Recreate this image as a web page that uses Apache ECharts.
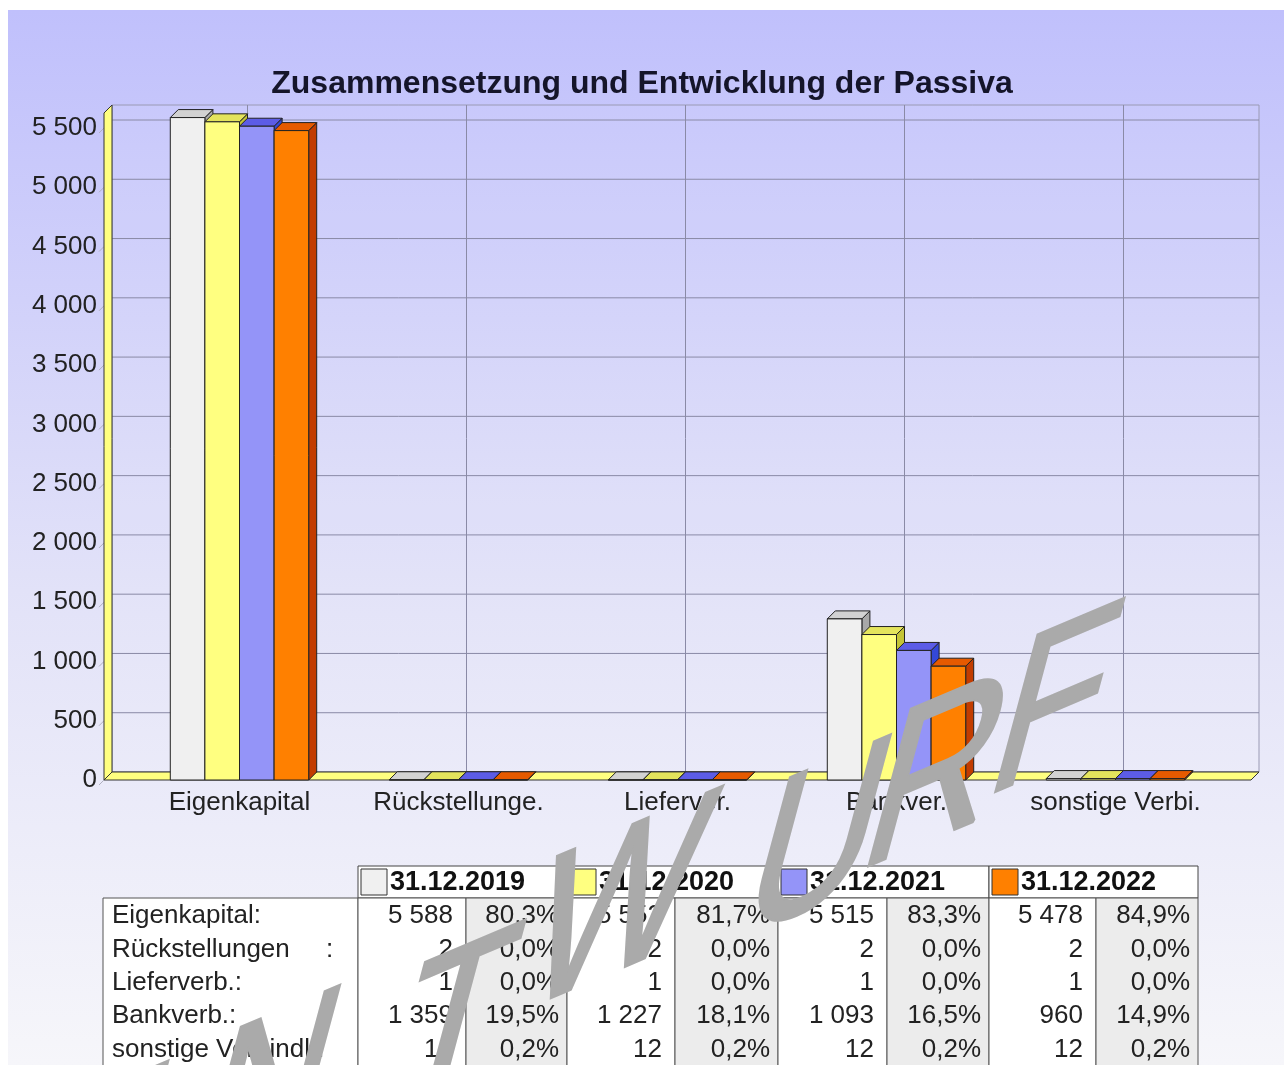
<!DOCTYPE html>
<html><head><meta charset="utf-8">
<script src="https://cdn.jsdelivr.net/npm/echarts@6/dist/echarts.min.js"></script>
<style>html,body{margin:0;padding:0;background:#fff}#c{width:1284px;height:1065px}</style>
</head><body><div id="c"></div>
<script>
// ---------- data ----------
const titleText = 'Zusammensetzung und Entwicklung der Passiva';
const categories = ['Eigenkapital', 'Rückstellunge.', 'Lieferver.', 'Bankver.', 'sonstige Verbi.'];
const seriesNames = ['31.12.2019', '31.12.2020', '31.12.2021', '31.12.2022'];
const values2019 = [5588, 2, 1, 1359, 12];
const values2020 = [5552, 2, 1, 1227, 12];
const values2021 = [5515, 2, 1, 1093, 12];
const values2022 = [5478, 2, 1, 960, 12];
const pct2019 = ['80,3%', '0,0%', '0,0%', '19,5%', '0,2%'];
const pct2020 = ['81,7%', '0,0%', '0,0%', '18,1%', '0,2%'];
const pct2021 = ['83,3%', '0,0%', '0,0%', '16,5%', '0,2%'];
const pct2022 = ['84,9%', '0,0%', '0,0%', '14,9%', '0,2%'];
const rowLabels = ['Eigenkapital:', 'Rückstellungen     :', 'Lieferverb.:', 'Bankverb.:', 'sonstige Verbindl.:'];
const yTicks = [0, 500, 1000, 1500, 2000, 2500, 3000, 3500, 4000, 4500, 5000, 5500];
const watermarkText = 'ENTWURF';

// ---------- styles ----------
const FONT = '"Liberation Sans", Arial, sans-serif';
const allValues = [values2019, values2020, values2021, values2022];
const allPct = [pct2019, pct2020, pct2021, pct2022];
const faceColors = [
  {front: '#f0f0f0', top: '#d2d2d2', side: '#a8a8a8'},
  {front: '#ffff80', top: '#e4e45c', side: '#c4c436'},
  {front: '#9494f8', top: '#5c5ce6', side: '#3448d8'},
  {front: '#ff8000', top: '#e65a00', side: '#c23c00'}
];
const DEPTH = 8;
const fmt = v => String(v).replace(/\B(?=(\d{3})+(?!\d))/g, ' ');

function barRender(s) {
  return function (params, api) {
    const cat = api.value(0), v = api.value(1);
    const top = api.coord([cat, v]);
    const base = api.coord([cat, 0]);
    const cw = api.size([1, 0])[0];
    const bw = cw * 0.158;
    const x0 = top[0] + (s - 1.5) * bw - bw / 2;
    const x1 = x0 + bw;
    const yt = top[1], yb = base[1], d = DEPTH;
    const c = faceColors[s];
    return {type: 'group', children: [
      {type: 'polygon', shape: {points: [[x1, yt], [x1 + d, yt - d], [x1 + d, yb - d], [x1, yb]]},
        style: {fill: c.side, stroke: '#222', lineWidth: 1}},
      {type: 'polygon', shape: {points: [[x0, yt], [x0 + d, yt - d], [x1 + d, yt - d], [x1, yt]]},
        style: {fill: c.top, stroke: '#222', lineWidth: 1}},
      {type: 'rect', shape: {x: x0, y: yt, width: bw, height: Math.max(yb - yt, 0)},
        style: {fill: c.front, stroke: '#222', lineWidth: 1}}
    ]};
  };
}

function frameRender(params, api) {
  const cs = params.coordSys;
  const d = DEPTH, ext = 26, over = 15;
  const y0 = api.coord([0, 0])[1];
  const yMax = api.coord([0, yTicks[yTicks.length - 1]])[1];
  const xl = cs.x - ext, xr = cs.x + cs.width + ext;
  const wallTop = yMax - d - over;
  const ch = [];
  ch.push({type: 'rect', shape: {x: xl + d, y: wallTop, width: xr - xl, height: y0 - d - wallTop},
    style: {fill: 'rgba(255,255,255,0.06)', stroke: '#9a9ab4', lineWidth: 1}});
  yTicks.forEach(t => {
    const y = api.coord([0, t])[1];
    ch.push({type: 'line', shape: {x1: xl + d, y1: y - d, x2: xr + d, y2: y - d},
      style: {stroke: '#8a8aa6', lineWidth: 1}});
    ch.push({type: 'line', shape: {x1: xl - 5, y1: y + 5, x2: xl, y2: y},
      style: {stroke: '#b0b0c0', lineWidth: 1}});
  });
  categories.forEach((c, i) => {
    const x = api.coord([i, 0])[0];
    ch.push({type: 'line', shape: {x1: x + d, y1: wallTop, x2: x + d, y2: y0 - d},
      style: {stroke: '#8a8aa6', lineWidth: 1}});
  });
  ch.push({type: 'polygon', shape: {points: [[xl, y0], [xl + d, y0 - d], [xl + d, wallTop], [xl, wallTop + d]]},
    style: {fill: '#ffff80', stroke: '#333', lineWidth: 1}});
  ch.push({type: 'polygon', shape: {points: [[xl, y0], [xl + d, y0 - d], [xr + d, y0 - d], [xr, y0]]},
    style: {fill: '#ffff80', stroke: '#333', lineWidth: 1}});
  return {type: 'group', children: ch};
}

// ---------- table (graphic) ----------
const tbl = {headTop: 866, headH: 32, bodyTop: 898, rowH: 33.4, labelX: 103,
  cols: [358, 466, 567, 675, 778, 887, 989, 1096, 1198], bottom: 1068};
const graphics = [];
graphics.push({type: 'rect', z: -100, silent: true,
  shape: {x: 8, y: 10, width: 1276, height: 1055},
  style: {fill: new echarts.graphic.LinearGradient(0, 0, 0, 1, [
    {offset: 0, color: '#c0c0fc'}, {offset: 0.55, color: '#e2e2f8'}, {offset: 1, color: '#f6f6fa'}])}});
graphics.push({type: 'rect', z: 10, shape: {x: tbl.labelX, y: tbl.bodyTop, width: tbl.cols[0] - tbl.labelX, height: tbl.bottom - tbl.bodyTop},
  style: {fill: '#ffffff', stroke: '#555', lineWidth: 1}});
seriesNames.forEach((name, s) => {
  const xa = tbl.cols[2 * s], xb = tbl.cols[2 * s + 1], xc = tbl.cols[2 * s + 2];
  graphics.push({type: 'rect', z: 10, shape: {x: xa, y: tbl.headTop, width: xc - xa, height: tbl.headH},
    style: {fill: '#ffffff', stroke: '#444', lineWidth: 1}});
  graphics.push({type: 'rect', z: 11, shape: {x: xa + 3, y: tbl.headTop + 3, width: 26, height: 26},
    style: {fill: faceColors[s].front, stroke: '#333', lineWidth: 1}});
  graphics.push({type: 'text', z: 11, x: xa + 32, y: tbl.headTop + tbl.headH / 2 + 1,
    style: {text: name, font: 'bold 27px ' + FONT, fill: '#111', textVerticalAlign: 'middle'}});
  graphics.push({type: 'rect', z: 10, shape: {x: xa, y: tbl.bodyTop, width: xb - xa, height: tbl.bottom - tbl.bodyTop},
    style: {fill: '#ffffff', stroke: '#555', lineWidth: 1}});
  graphics.push({type: 'rect', z: 10, shape: {x: xb, y: tbl.bodyTop, width: xc - xb, height: tbl.bottom - tbl.bodyTop},
    style: {fill: '#ececec', stroke: '#555', lineWidth: 1}});
  categories.forEach((c, r) => {
    const yc = tbl.bodyTop + 18 + r * tbl.rowH;
    graphics.push({type: 'text', z: 11, x: xb - 13, y: yc,
      style: {text: fmt(allValues[s][r]), font: '26px ' + FONT, fill: '#222', textAlign: 'right', textVerticalAlign: 'middle'}});
    graphics.push({type: 'text', z: 11, x: xc - 8, y: yc,
      style: {text: allPct[s][r], font: '26px ' + FONT, fill: '#222', textAlign: 'right', textVerticalAlign: 'middle'}});
  });
});
rowLabels.forEach((t, r) => {
  graphics.push({type: 'text', z: 11, x: tbl.labelX + 9, y: tbl.bodyTop + 18 + r * tbl.rowH,
    style: {text: t, font: '26px ' + FONT, fill: '#222', textVerticalAlign: 'middle'}});
});

// ---------- watermark: slanted, rotated letters (affine = rotation * scale * rotation) ----------
const wmLetters = watermarkText.split('');
const wmPos = [[95, 1175], [265, 1100], [450, 1035], [615, 915], [815, 850], [935, 782], [1052, 712]];
const baseAng = 23 * Math.PI / 180, stemAng = 15 * Math.PI / 180, wsx = 0.8, wsy = 0.98;
const m00 = wsx * Math.cos(baseAng), m10 = -wsx * Math.sin(baseAng);
const m01 = -wsy * Math.sin(stemAng), m11 = wsy * Math.cos(stemAng);
const sE = (m00 + m11) / 2, sF = (m00 - m11) / 2, sG = (m10 + m01) / 2, sH = (m10 - m01) / 2;
const sQ = Math.hypot(sE, sH), sR = Math.hypot(sF, sG);
const sv1 = sQ + sR, sv2 = sQ - sR;
const an1 = Math.atan2(sG, sF), an2 = Math.atan2(sH, sE);
const svTheta = (an2 - an1) / 2, svPhi = (an2 + an1) / 2;
wmLetters.forEach((ch, i) => {
  graphics.push({type: 'group', z: 1000, silent: true, x: wmPos[i][0], y: wmPos[i][1],
    rotation: -svPhi, scaleX: sv1, scaleY: sv2,
    children: [{type: 'group', rotation: -svTheta,
      children: [{type: 'text', z: 1000, silent: true, x: 0, y: 0,
        style: {text: ch, font: '240px ' + FONT, fill: '#aaaaaa', stroke: '#aaaaaa', lineWidth: 4,
          textAlign: 'center', textVerticalAlign: 'middle'}}]}]});
});

const chart = echarts.init(document.getElementById('c'), null, {renderer: 'canvas'});
chart.setOption({
  animation: false,
  backgroundColor: '#ffffff',
  title: {text: titleText, left: 'center', top: 63,
    textStyle: {fontFamily: FONT, fontSize: 32, fontWeight: 'bold', color: '#15152a'}},
  grid: {left: 130, right: 59, top: 128, bottom: 285, containLabel: false},
  xAxis: {type: 'category', data: categories, boundaryGap: true,
    axisLine: {show: false}, axisTick: {show: false}, splitLine: {show: false},
    axisLabel: {margin: 10, fontFamily: FONT, fontSize: 26, color: '#222', interval: 0}},
  yAxis: {type: 'value', min: 0, max: 5500, interval: 500,
    axisLine: {show: false}, axisTick: {show: false}, splitLine: {show: false},
    axisLabel: {margin: 33, fontFamily: FONT, fontSize: 26, color: '#222', formatter: v => fmt(v)}},
  graphic: graphics,
  series: [
    {type: 'custom', name: 'frame', renderItem: frameRender, data: [[0, 0]], z: 1, silent: true, clip: false},
    ...seriesNames.map((n, s) => ({
      type: 'custom', name: n, z: 2, clip: false,
      renderItem: barRender(s),
      encode: {x: 0, y: 1},
      data: allValues[s].map((v, i) => [i, v])
    }))
  ]
});
</script></body></html>
